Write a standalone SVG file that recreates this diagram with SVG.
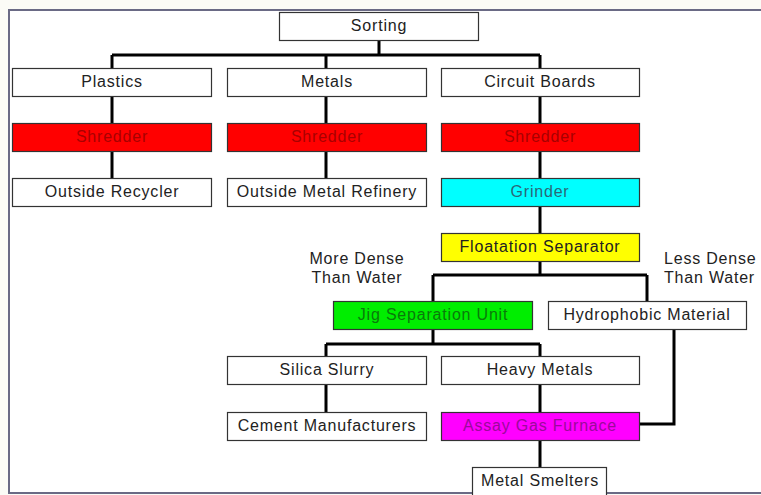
<svg xmlns="http://www.w3.org/2000/svg" width="761" height="495" viewBox="0 0 761 495">
<style>
.b{stroke:#333;stroke-width:1.2}
.t{font-family:"Liberation Sans",Arial,sans-serif;font-size:16px;letter-spacing:0.8px;text-anchor:middle;fill:#222}
.l{font-family:"Liberation Sans",Arial,sans-serif;font-size:16px;letter-spacing:0.8px;fill:#222}
.c{fill:none;stroke:#000;stroke-width:3}
</style>
<rect x="0" y="0" width="761" height="495" fill="#fbfbf6"/>
<rect x="9" y="10" width="760" height="483" fill="#fff" stroke="#6a6a85" stroke-width="2"/>
<g id="connectors">
<path class="c" d="M379 41V55M112 55H540M112 55V68M326 55V68M540 55V68"/>
<path class="c" d="M112 97V123M112 152V178M326 97V123M326 152V178M540 97V123M540 152V178M540 207V233"/>
<path class="c" d="M540 262V275M433 275H647M433 275V301M647 275V301"/>
<path class="c" d="M433 329V344M326 344H540M326 344V356M540 344V356M326 385V412M540 385V412M540 440V467"/>
<path class="c" d="M674 329V424H640"/>
</g>
<g id="sorting"><rect class="b" x="279.5" y="12.5" width="199" height="28" fill="#fff"/><text class="t" x="379" y="31">Sorting</text></g>
<g id="plastics"><rect class="b" x="12.5" y="68.5" width="199" height="28" fill="#fff"/><text class="t" x="112" y="87">Plastics</text></g>
<g id="metals"><rect class="b" x="227.5" y="68.5" width="199" height="28" fill="#fff"/><text class="t" x="327" y="87">Metals</text></g>
<g id="circuit-boards"><rect class="b" x="441.5" y="68.5" width="198" height="28" fill="#fff"/><text class="t" x="540" y="87">Circuit Boards</text></g>
<g id="shredder1"><rect class="b" x="12.5" y="123.5" width="199" height="28" fill="#ff0000"/><text class="t" x="112" y="142" style="fill:#a80000">Shredder</text></g>
<g id="shredder2"><rect class="b" x="227.5" y="123.5" width="199" height="28" fill="#ff0000"/><text class="t" x="327" y="142" style="fill:#a80000">Shredder</text></g>
<g id="shredder3"><rect class="b" x="441.5" y="123.5" width="198" height="28" fill="#ff0000"/><text class="t" x="540" y="142" style="fill:#a80000">Shredder</text></g>
<g id="outside-recycler"><rect class="b" x="12.5" y="178.5" width="199" height="28" fill="#fff"/><text class="t" x="112" y="197">Outside Recycler</text></g>
<g id="outside-metal-refinery"><rect class="b" x="227.5" y="178.5" width="199" height="28" fill="#fff"/><text class="t" x="327" y="197">Outside Metal Refinery</text></g>
<g id="grinder"><rect class="b" x="441.5" y="178.5" width="198" height="28" fill="#00ffff"/><text class="t" x="540" y="197" style="fill:#2a6878">Grinder</text></g>
<g id="floatation-separator"><rect class="b" x="441.5" y="233.5" width="198" height="28" fill="#ffff00"/><text class="t" x="540" y="252">Floatation Separator</text></g>
<g id="label-more-dense"><text class="t" x="357" y="264">More Dense</text><text class="t" x="357" y="283">Than Water</text></g>
<g id="label-less-dense"><text class="l" x="664" y="264">Less Dense</text><text class="l" x="664" y="283">Than Water</text></g>
<g id="jig"><rect class="b" x="333.5" y="301.5" width="199" height="28" fill="#00ee00"/><text class="t" x="433" y="320" style="fill:#0a7a0a">Jig Separation Unit</text></g>
<g id="hydrophobic"><rect class="b" x="548.5" y="301.5" width="198" height="28" fill="#fff"/><text class="t" x="647" y="320">Hydrophobic Material</text></g>
<g id="silica"><rect class="b" x="227.5" y="356.5" width="199" height="28" fill="#fff"/><text class="t" x="327" y="375">Silica Slurry</text></g>
<g id="heavy-metals"><rect class="b" x="441.5" y="356.5" width="198" height="28" fill="#fff"/><text class="t" x="540" y="375">Heavy Metals</text></g>
<g id="cement"><rect class="b" x="227.5" y="412.5" width="199" height="28" fill="#fff"/><text class="t" x="327" y="431">Cement Manufacturers</text></g>
<g id="assay"><rect class="b" x="441.5" y="412.5" width="198" height="28" fill="#ff00ff"/><text class="t" x="540" y="431" style="fill:#9a0a9a">Assay Gas Furnace</text></g>
<g id="metal-smelters"><rect class="b" x="472.5" y="467.5" width="134" height="30" fill="#fff"/><text class="t" x="540" y="486">Metal Smelters</text></g>
</svg>
